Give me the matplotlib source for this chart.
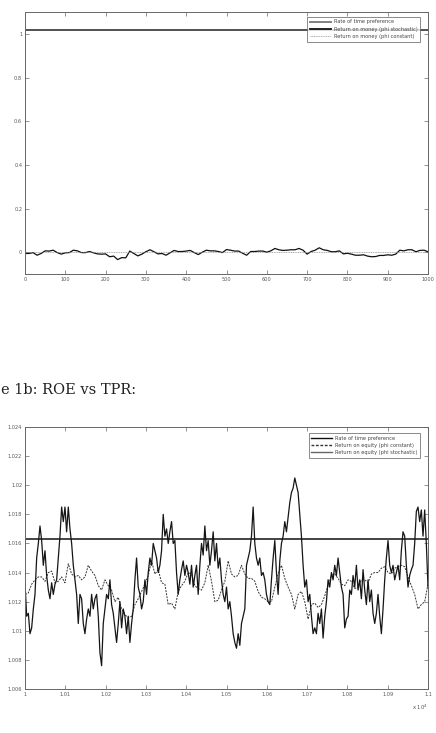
import numpy as np
import matplotlib
matplotlib.use("Agg")
import matplotlib.pyplot as plt
from matplotlib.ticker import FixedLocator, FixedFormatter

# ---------------- data ----------------
tpr = 1.0163

money_stoch = [-0.006, -0.006, -0.002, -0.014, -0.006, 0.006, 0.005, 0.009, -0.002, -0.009,
               -0.003, -0.002, 0.009, 0.006, -0.002, -0.002, 0.003, -0.003, -0.008, -0.009,
               -0.008, -0.021, -0.018, -0.034, -0.025, -0.026, 0.005, -0.006, -0.017, -0.009,
               0.002, 0.011, 0.002, -0.008, -0.006, -0.014, -0.003, 0.008, 0.003, 0.003,
               0.005, 0.008, -0.002, -0.011, 0.000, 0.009, 0.006, 0.006, 0.003, -0.002,
               0.012, 0.009, 0.005, 0.005, -0.005, -0.014, 0.003, 0.003, 0.005, 0.005,
               0.000, 0.006, 0.017, 0.011, 0.008, 0.009, 0.011, 0.011, 0.017, 0.009,
               -0.009, 0.003, 0.009, 0.020, 0.011, 0.008, 0.002, 0.002, 0.006, -0.008,
               -0.005, -0.009, -0.014, -0.014, -0.012, -0.018, -0.021, -0.020, -0.015, -0.015,
               -0.012, -0.014, -0.009, 0.009, 0.006, 0.011, 0.011, 0.002, 0.008, 0.009,
               0.002]
money_const = [0.0, 0.0]

equity_stoch = [1.0133, 1.0110, 1.0112, 1.0098, 1.0102, 1.0115, 1.0125, 1.0150, 1.0160, 1.0172,
                1.0162, 1.0145, 1.0155, 1.0138, 1.0128, 1.0122, 1.0133, 1.0125, 1.0132, 1.0135,
                1.0150, 1.0165, 1.0185, 1.0175, 1.0185, 1.0168, 1.0185, 1.0170, 1.0160, 1.0145,
                1.0135, 1.0125, 1.0105, 1.0125, 1.0122, 1.0105, 1.0098, 1.0108, 1.0115, 1.0110,
                1.0125, 1.0115, 1.0122, 1.0125, 1.0110, 1.0085, 1.0076, 1.0105, 1.0115, 1.0125,
                1.0122, 1.0135, 1.0118, 1.0112, 1.0102, 1.0092, 1.0105, 1.0120, 1.0102, 1.0115,
                1.0110, 1.0098, 1.0110, 1.0092, 1.0105, 1.0115, 1.0135, 1.0150, 1.0130, 1.0125,
                1.0115, 1.0120, 1.0135, 1.0125, 1.0140, 1.0150, 1.0145, 1.0160, 1.0155, 1.0150,
                1.0140, 1.0145, 1.0155, 1.0180, 1.0165, 1.0170, 1.0160, 1.0168, 1.0175, 1.0160,
                1.0162, 1.0140, 1.0125, 1.0135, 1.0142, 1.0148, 1.0138, 1.0145, 1.0140, 1.0132,
                1.0145, 1.0130, 1.0138, 1.0145, 1.0125, 1.0145, 1.0160, 1.0152, 1.0172, 1.0155,
                1.0162, 1.0145, 1.0155, 1.0168, 1.0148, 1.0160, 1.0143, 1.0150, 1.0135, 1.0125,
                1.0120, 1.0130, 1.0115, 1.0120, 1.0110, 1.0098, 1.0092, 1.0088, 1.0098, 1.0090,
                1.0105, 1.0110, 1.0115, 1.0145, 1.0150, 1.0155, 1.0165, 1.0185, 1.0160, 1.0150,
                1.0145, 1.0150, 1.0138, 1.0140, 1.0135, 1.0125, 1.0120, 1.0118, 1.0135, 1.0150,
                1.0162, 1.0140, 1.0125, 1.0148, 1.0160, 1.0165, 1.0175, 1.0168, 1.0178, 1.0188,
                1.0195, 1.0198, 1.0205, 1.0200, 1.0195, 1.0180, 1.0165, 1.0145, 1.0130, 1.0135,
                1.0120, 1.0125, 1.0110, 1.0098, 1.0102, 1.0098, 1.0112, 1.0105, 1.0115, 1.0095,
                1.0110, 1.0120, 1.0135, 1.0130, 1.0140, 1.0135, 1.0145, 1.0138, 1.0150, 1.0140,
                1.0130, 1.0125, 1.0102, 1.0108, 1.0110, 1.0128, 1.0125, 1.0138, 1.0130, 1.0145,
                1.0128, 1.0135, 1.0122, 1.0142, 1.0128, 1.0118, 1.0135, 1.0120, 1.0128, 1.0112,
                1.0105, 1.0112, 1.0125, 1.0110, 1.0098, 1.0115, 1.0135, 1.0150, 1.0162, 1.0145,
                1.0140, 1.0145, 1.0135, 1.0140, 1.0145, 1.0135, 1.0155, 1.0168, 1.0165, 1.0145,
                1.0130, 1.0138, 1.0142, 1.0145, 1.0160, 1.0182, 1.0185, 1.0175, 1.0183, 1.0165,
                1.0183, 1.0160, 1.0130]

equity_const = [1.0125, 1.0126, 1.0132, 1.0135, 1.0137, 1.0137, 1.0134, 1.0140, 1.0141, 1.0133,
                1.0134, 1.0137, 1.0133, 1.0146, 1.0139, 1.0137, 1.0138, 1.0135, 1.0137, 1.0145,
                1.0141, 1.0138, 1.0131, 1.0128, 1.0135, 1.0131, 1.0128, 1.0120, 1.0123, 1.0115,
                1.0111, 1.0109, 1.0110, 1.0118, 1.0122, 1.0127, 1.0132, 1.0138, 1.0148, 1.0139,
                1.0142, 1.0133, 1.0132, 1.0118, 1.0119, 1.0115, 1.0127, 1.0131, 1.0134, 1.0140,
                1.0139, 1.0131, 1.0129, 1.0128, 1.0133, 1.0145, 1.0134, 1.0120, 1.0121, 1.0128,
                1.0134, 1.0148, 1.0139, 1.0137, 1.0138, 1.0145, 1.0139, 1.0136, 1.0136, 1.0134,
                1.0127, 1.0123, 1.0122, 1.0120, 1.0120, 1.0130, 1.0139, 1.0145, 1.0136, 1.0130,
                1.0125, 1.0115, 1.0125, 1.0127, 1.0120, 1.0108, 1.0118, 1.0119, 1.0116, 1.0118,
                1.0124, 1.0131, 1.0138, 1.0139, 1.0136, 1.0132, 1.0131, 1.0135, 1.0134, 1.0129,
                1.0130, 1.0135, 1.0135, 1.0133, 1.0139, 1.0140, 1.0140, 1.0143, 1.0144, 1.0140,
                1.0139, 1.0143, 1.0144, 1.0145, 1.0144, 1.0137, 1.0131, 1.0125, 1.0115, 1.0118,
                1.0120, 1.0132]

top_xticks = [0, 100, 200, 300, 400, 500, 600, 700, 800, 900, 1000]
top_yticks = [0, 0.2, 0.4, 0.6, 0.8, 1]
top_ylabels = ["0", "0.2", "0.4", "0.6", "0.8", "1"]
bot_xticks = [10000, 10100, 10200, 10300, 10400, 10500, 10600, 10700, 10800, 10900, 11000]
bot_xlabels = ["1", "1.01", "1.02", "1.03", "1.04", "1.05", "1.06", "1.07", "1.08", "1.09", "1.1"]
bot_yticks = [1.006, 1.008, 1.01, 1.012, 1.014, 1.016, 1.018, 1.02, 1.022, 1.024]
bot_ylabels = ["1.006", "1.008", "1.01", "1.012", "1.014", "1.016", "1.018", "1.02", "1.022", "1.024"]

top_labels = ["Rate of time preference", "Return on money (phi stochastic)", "Return on money (phi constant)"]
bot_labels = ["Rate of time preference", "Return on equity (phi constant)", "Return on equity (phi stochastic)"]

# ---------------- figure ----------------
W, H = 436, 733
fig = plt.figure(figsize=(W / 100, H / 100), dpi=100)
fig.patch.set_facecolor("white")

tick_color = "#555555"
tick_fs = 3.6


def style(ax):
    for s in ax.spines.values():
        s.set_color("#666666")
        s.set_linewidth(0.7)
    ax.tick_params(direction="in", length=3, width=0.5, colors="#666666",
                   labelsize=tick_fs, labelcolor=tick_color, top=True, right=True, pad=2)


# top axes
ax1 = fig.add_axes([25 / W, 1 - 274 / H, 403 / W, 262 / H])
t1 = np.linspace(0, 1000, len(money_stoch))
l1, = ax1.plot([0, 1000], [tpr, tpr], color="#222222", lw=1.1)
l2, = ax1.plot(t1, money_stoch, color="#111111", lw=0.9)
l3, = ax1.plot([0, 1000], money_const, color="#888888", lw=0.5, ls=(0, (1.5, 1)))
ax1.set_xlim(0, 1000)
ax1.set_ylim(-0.1, 1.1)
ax1.xaxis.set_major_locator(FixedLocator(top_xticks))
ax1.yaxis.set_major_locator(FixedLocator(top_yticks))
ax1.yaxis.set_major_formatter(FixedFormatter(top_ylabels))
style(ax1)
leg1 = ax1.legend([l1, l2, l3], top_labels, loc="upper right",
                  bbox_to_anchor=((420 - 25) / 403, (274 - 17) / 262),
                  fontsize=3.6, frameon=True, fancybox=False, borderpad=0.5,
                  handlelength=4.2, labelspacing=0.45, handletextpad=0.6,
                  borderaxespad=0)
leg1.get_frame().set_edgecolor("#555555")
leg1.get_frame().set_linewidth(0.6)
for txt in leg1.get_texts():
    txt.set_color("#444444")
leg1.get_lines()[0].set_color("#777777")
leg1.get_lines()[0].set_linewidth(1.3)
leg1.get_lines()[1].set_linewidth(1.3)

# caption text
fig.text(0.002, 1 - 390 / H, "e 1b: ROE vs TPR:", family="DejaVu Serif",
         fontsize=10.5, va="center", ha="left", color="#222222")

# bottom axes
ax2 = fig.add_axes([25 / W, 1 - 689 / H, 403 / W, 262 / H])
t2s = np.linspace(10000, 11000, len(equity_stoch))
t2c = np.linspace(10000, 11000, len(equity_const))
m1, = ax2.plot([10000, 11000], [tpr, tpr], color="#111111", lw=1.1)
m2, = ax2.plot(t2c, equity_const, color="#333333", lw=0.7, ls=(0, (2, 1.2)))
m3, = ax2.plot(t2s, equity_stoch, color="#151515", lw=0.9)
ax2.set_xlim(10000, 11000)
ax2.set_ylim(1.006, 1.024)
ax2.xaxis.set_major_locator(FixedLocator(bot_xticks))
ax2.xaxis.set_major_formatter(FixedFormatter(bot_xlabels))
ax2.yaxis.set_major_locator(FixedLocator(bot_yticks))
ax2.yaxis.set_major_formatter(FixedFormatter(bot_ylabels))
style(ax2)
ax2.text(1.0, -0.07, r"x 10$^4$", transform=ax2.transAxes, ha="right", va="center",
         fontsize=3.8, color=tick_color)
leg2 = ax2.legend([m1, m2, m3], bot_labels, loc="upper right",
                  bbox_to_anchor=((420 - 25) / 403, (689 - 433) / 262),
                  fontsize=3.6, frameon=True, fancybox=False, borderpad=0.5,
                  handlelength=4.2, labelspacing=0.45, handletextpad=0.6,
                  borderaxespad=0)
leg2.get_frame().set_edgecolor("#555555")
leg2.get_frame().set_linewidth(0.6)
for txt in leg2.get_texts():
    txt.set_color("#444444")
leg2.get_lines()[2].set_color("#666666")
for ln in leg2.get_lines():
    ln.set_linewidth(1.0)

fig.savefig("out.png", dpi=100, facecolor="white")
